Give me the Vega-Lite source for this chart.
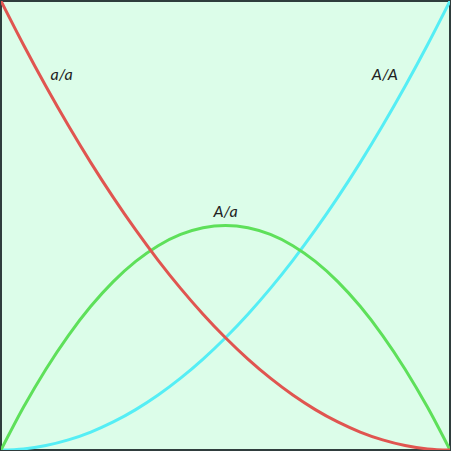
{
  "$schema": "https://vega.github.io/schema/vega-lite/v6.json",
  "width": 451,
  "height": 451,
  "autosize": {"type": "fit", "contains": "padding"},
  "padding": 1,
  "background": "#2f3d3d",
  "config": {"view": {"fill": "#dcfde9", "stroke": "#2f3d3d", "strokeWidth": 2}},
  "datasets": {
    "curves": [
      {"p": 0.00, "AA": 0.0000, "Aa": 0.000, "aa": 1.0000},
      {"p": 0.05, "AA": 0.0025, "Aa": 0.095, "aa": 0.9025},
      {"p": 0.10, "AA": 0.0100, "Aa": 0.180, "aa": 0.8100},
      {"p": 0.15, "AA": 0.0225, "Aa": 0.255, "aa": 0.7225},
      {"p": 0.20, "AA": 0.0400, "Aa": 0.320, "aa": 0.6400},
      {"p": 0.25, "AA": 0.0625, "Aa": 0.375, "aa": 0.5625},
      {"p": 0.30, "AA": 0.0900, "Aa": 0.420, "aa": 0.4900},
      {"p": 0.35, "AA": 0.1225, "Aa": 0.455, "aa": 0.4225},
      {"p": 0.40, "AA": 0.1600, "Aa": 0.480, "aa": 0.3600},
      {"p": 0.45, "AA": 0.2025, "Aa": 0.495, "aa": 0.3025},
      {"p": 0.50, "AA": 0.2500, "Aa": 0.500, "aa": 0.2500},
      {"p": 0.55, "AA": 0.3025, "Aa": 0.495, "aa": 0.2025},
      {"p": 0.60, "AA": 0.3600, "Aa": 0.480, "aa": 0.1600},
      {"p": 0.65, "AA": 0.4225, "Aa": 0.455, "aa": 0.1225},
      {"p": 0.70, "AA": 0.4900, "Aa": 0.420, "aa": 0.0900},
      {"p": 0.75, "AA": 0.5625, "Aa": 0.375, "aa": 0.0625},
      {"p": 0.80, "AA": 0.6400, "Aa": 0.320, "aa": 0.0400},
      {"p": 0.85, "AA": 0.7225, "Aa": 0.255, "aa": 0.0225},
      {"p": 0.90, "AA": 0.8100, "Aa": 0.180, "aa": 0.0100},
      {"p": 0.95, "AA": 0.9025, "Aa": 0.095, "aa": 0.0025},
      {"p": 1.00, "AA": 1.0000, "Aa": 0.000, "aa": 0.0000}
    ],
    "labels": [
      {"p": 0.135, "v": 0.835, "label": "a/a"},
      {"p": 0.855, "v": 0.835, "label": "A/A"},
      {"p": 0.500, "v": 0.530, "label": "A/a"}
    ]
  },
  "layer": [
    {
      "data": {"name": "curves"},
      "transform": [{"fold": ["AA", "Aa", "aa"], "as": ["genotype", "freq"]}],
      "mark": {"type": "line", "interpolate": "monotone", "strokeWidth": 3, "clip": true},
      "encoding": {
        "x": {"field": "p", "type": "quantitative", "scale": {"domain": [0, 1], "nice": false}, "axis": null},
        "y": {"field": "freq", "type": "quantitative", "scale": {"domain": [0, 1], "nice": false}, "axis": null},
        "color": {"field": "genotype", "type": "nominal", "scale": {"domain": ["AA", "Aa", "aa"], "range": ["#55eef5", "#5ee05a", "#e05550"]}, "legend": null}
      }
    },
    {
      "data": {"name": "labels"},
      "mark": {"type": "text", "font": "Lato", "fontStyle": "italic", "fontSize": 16, "color": "#222222"},
      "encoding": {
        "x": {"field": "p", "type": "quantitative"},
        "y": {"field": "v", "type": "quantitative"},
        "text": {"field": "label"}
      }
    }
  ]
}
